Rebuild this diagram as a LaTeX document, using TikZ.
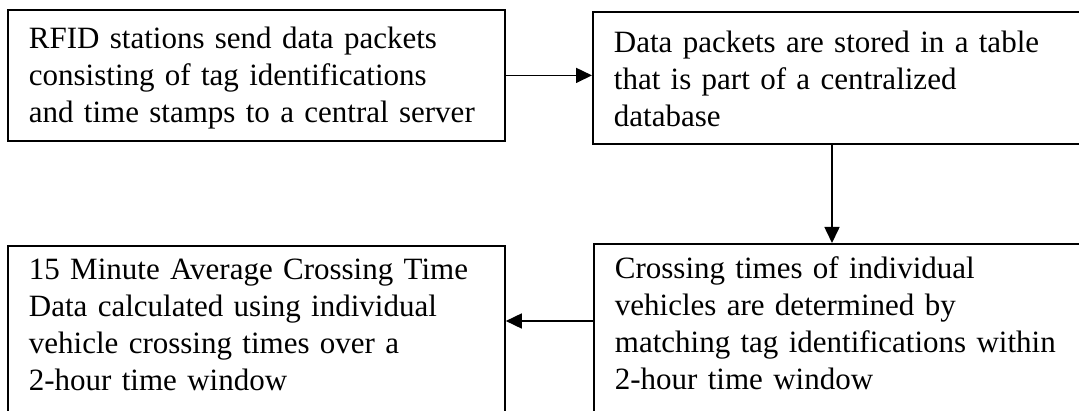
\documentclass[tikz,border=0pt]{standalone}
\usepackage{fontspec}
\setmainfont{Liberation Serif}
\usetikzlibrary{arrows.meta}
\tikzset{
  stepbox/.style={draw, line width=1.8pt, anchor=north west, inner xsep=21pt,
    inner ysep=0pt, align=left, font=\fontsize{31}{37}\selectfont},
  flow/.style={line width=1.6pt, -{Triangle[length=16pt,width=15pt]}}
}
\begin{document}
\begin{tikzpicture}[x=1pt,y=1pt]
\useasboundingbox (0,0) rectangle (1079,410);
\clip (0,0) rectangle (1079,410);
\node[stepbox, text width=455pt, text height=39pt, text depth=92pt] (send) at (7,401)
  {RFID stations send data packets\\consisting of tag identifications\\and time stamps to a central server};
\node[stepbox, text width=500pt, text height=41pt, text depth=91pt] (store) at (592,399)
  {Data packets are stored in a table\\that is part of a centralized\\database};
\node[stepbox, text width=455pt, text height=34pt, text depth=200pt] (average) at (7,165)
  {15 Minute Average Crossing Time\\Data calculated using individual\\vehicle crossing times over a\\2-hour time window};
\node[stepbox, text width=500pt, text height=35pt, text depth=200pt] (match) at (593,167)
  {Crossing times of individual\\vehicles are determined by\\matching tag identifications within\\2-hour time window};
\coordinate (drop) at (832,0);
\coordinate (back) at (0,89);
\draw[flow] (send.east) -- (send.east -| store.west);
\draw[flow] (store.south -| drop) -- (match.north -| drop);
\draw[flow] (match.west |- back) -- (average.east |- back);
\end{tikzpicture}
\end{document}
